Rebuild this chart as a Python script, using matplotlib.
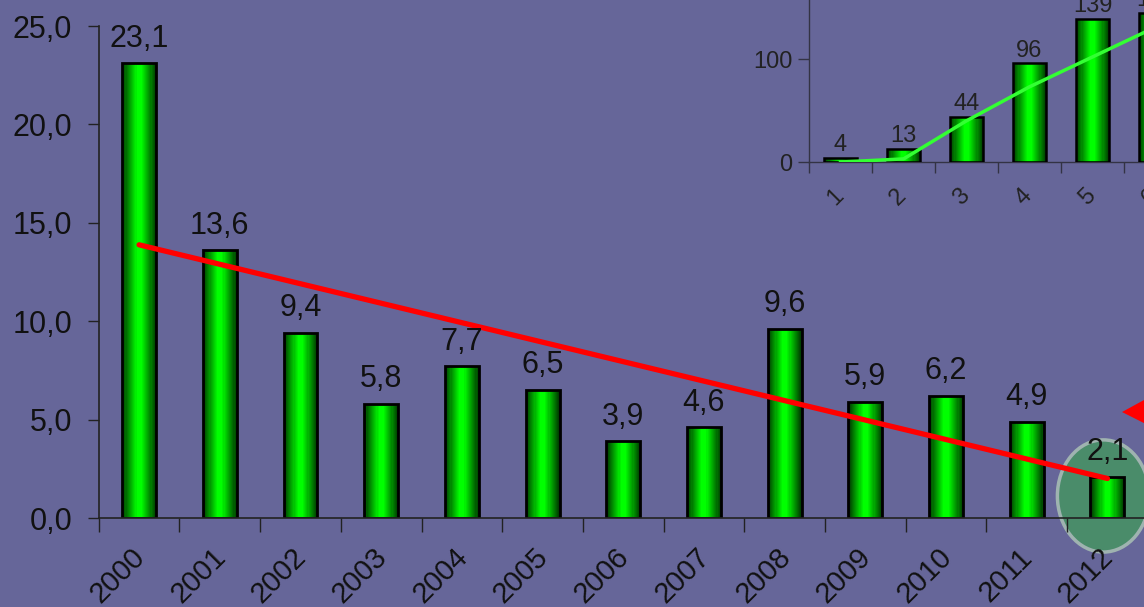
import numpy as np
import matplotlib
matplotlib.use("Agg")
import matplotlib.pyplot as plt
from matplotlib.patches import Ellipse, Polygon
from matplotlib.transforms import ScaledTranslation

plt.rcParams['font.family'] = ['Liberation Sans', 'DejaVu Sans']

years = ["2000", "2001", "2002", "2003", "2004", "2005", "2006",
         "2007", "2008", "2009", "2010", "2011", "2012"]
values = [23.1, 13.6, 9.4, 5.8, 7.7, 6.5, 3.9, 4.6, 9.6, 5.9, 6.2, 4.9, 2.1]

small_cats = ["1", "2", "3", "4", "5", "6"]
small_vals = [4, 13, 44, 96, 139, 145]
small_line = [0, 3, 40, 73, 102, 131]

BG = "#666699"


def fmt(v):
    return f"{v:.1f}".replace(".", ",")


def gradient_bars(ax, x, h, width, lw):
    # fake a cylinder look: darker green at the sides, bright in the middle
    steps = 14
    for k in range(steps):
        t = k / (steps - 1)
        g = 0.25 + 0.75 * t
        col = (0.0, g, 0.0)
        ax.bar(x, h, width=width * (1 - 0.85 * t), color=col,
               edgecolor="none", zorder=2)
    ax.bar(x, h, width=width, facecolor="none", edgecolor="black",
           linewidth=lw, zorder=3)


def shift_labels(ax, dx, dy):
    for lbl in ax.get_xticklabels(minor=True):
        lbl.set_transform(lbl.get_transform() +
                          ScaledTranslation(dx / 72, dy / 72,
                                            fig.dpi_scale_trans))


fig = plt.figure(figsize=(11.44, 6.07), dpi=100, facecolor=BG)

# main chart
ax = fig.add_axes([0.0863, 0.1466, 0.917, 0.8105])
ax.set_facecolor(BG)
x = np.arange(len(years))
gradient_bars(ax, x, values, 0.42, 2.0)

for xi, v in zip(x, values):
    ax.annotate(fmt(v), (xi, v), xytext=(0, 7), textcoords="offset points",
                ha="center", va="bottom", fontsize=22, color="#111111",
                zorder=5)

# linear trend
k, b = np.polyfit(x, values, 1)
ax.plot([x[0], x[-1]], [k * x[0] + b, k * x[-1] + b], color="#ff0000",
        linewidth=3.8, solid_capstyle="round", zorder=4)

# highlight last year
ax.add_patch(Ellipse((11.95, 1.12), 1.14, 5.7, facecolor="#4a8c6a",
                     edgecolor="#9fb3b0", linewidth=2.5, zorder=1,
                     clip_on=False))

ax.set_xlim(-0.5, 12.5)
ax.set_ylim(0, 25)
ax.set_yticks(np.arange(0, 26, 5))
ax.set_yticklabels([fmt(t) for t in np.arange(0, 26, 5)])
ax.set_xticks(np.arange(-0.5, 12.6, 1))
ax.set_xticklabels([])
ax.set_xticks(x, years, minor=True, rotation=45, ha="right",
              rotation_mode="anchor")
ax.tick_params(axis="x", which="major", direction="out", length=10,
               width=1, color="#222222")
ax.tick_params(axis="x", which="minor", length=0, pad=18, labelsize=21,
               labelcolor="#111111")
ax.tick_params(axis="y", direction="out", length=8, width=1,
               color="#222222", labelsize=22, labelcolor="#111111", pad=11)
shift_labels(ax, -6, 0)
for s in ["top", "right"]:
    ax.spines[s].set_visible(False)
for s in ["left", "bottom"]:
    ax.spines[s].set_color("#222222")
    ax.spines[s].set_linewidth(1.2)
    ax.spines[s].set_zorder(3.5)

# small inset chart
ins = fig.add_axes([0.7072, 0.7331, 0.3304, 0.3394])
ins.patch.set_alpha(0)
xs = np.arange(1, len(small_cats) + 1)
gradient_bars(ins, xs, small_vals, 0.52, 1.8)
for xi, v in zip(xs, small_vals):
    ins.annotate(str(v), (xi, v), xytext=(0, 1), textcoords="offset points",
                 ha="center", va="bottom", fontsize=17, color="#222222",
                 zorder=5)
ins.plot(xs, small_line, color="#33ff33", linewidth=2.5, zorder=4)
ins.set_xlim(0.5, 6.5)
ins.set_ylim(0, 200)
ins.set_yticks([0, 100, 200])
ins.set_xticks(np.arange(0.5, 6.6, 1))
ins.set_xticklabels([])
ins.set_xticks(xs, small_cats, minor=True, rotation=45, ha="right",
               rotation_mode="anchor")
ins.tick_params(axis="x", which="major", direction="out", length=8,
                width=1, color="#333344")
ins.tick_params(axis="x", which="minor", length=0, pad=16, labelsize=17,
                labelcolor="#222222")
ins.tick_params(axis="y", direction="out", length=8, width=1,
                color="#333344", labelsize=17, labelcolor="#222222", pad=4)
shift_labels(ins, -6, 0)
for s in ["top", "right"]:
    ins.spines[s].set_visible(False)
for s in ["left", "bottom"]:
    ins.spines[s].set_color("#333344")
    ins.spines[s].set_linewidth(1.0)

# red pointer at the right edge
fig.patches.append(Polygon([(0.9808, 0.3212), (1.0, 0.341), (1.0, 0.303)],
                           closed=True, facecolor="#ff0000",
                           edgecolor="none", transform=fig.transFigure,
                           figure=fig))

fig.savefig("out.png", dpi=100, facecolor=BG)
